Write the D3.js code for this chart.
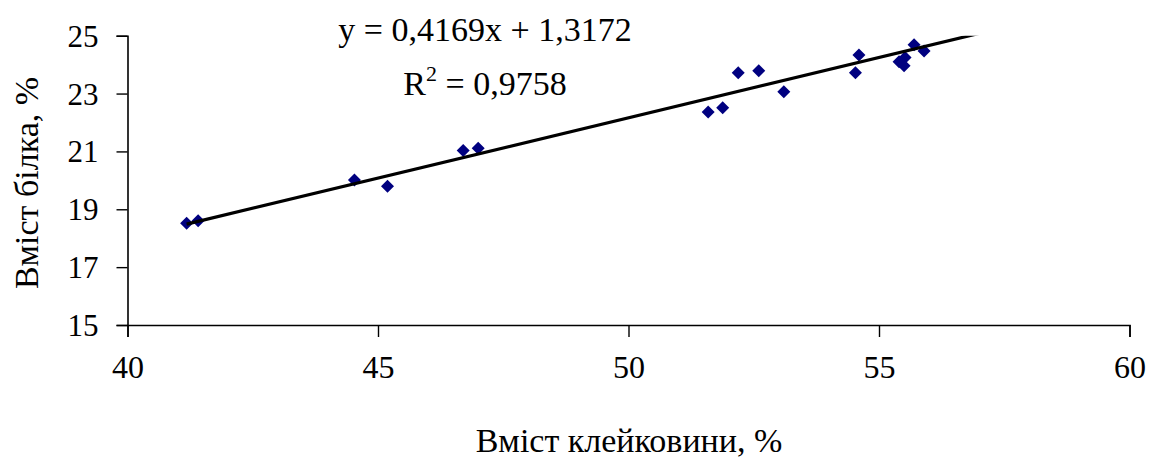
<!DOCTYPE html>
<html><head><meta charset="utf-8">
<script src="https://cdn.jsdelivr.net/npm/d3@7"></script>
<style>body{margin:0;background:#fff}svg{display:block}</style>
</head><body><svg id="c" width="1149" height="459"></svg>
<script>
const xVals = [41.18, 41.41, 44.53, 45.19, 46.70, 47.00, 51.59, 51.88, 52.19, 52.60, 53.10, 54.53, 54.60, 55.40, 55.52, 55.50, 55.70, 55.90];
const yVals = [18.52, 18.60, 20.01, 19.80, 21.03, 21.11, 22.36, 22.51, 23.72, 23.79, 23.06, 23.72, 24.33, 24.10, 24.25, 23.96, 24.69, 24.47];
const xTicks = [40, 45, 50, 55, 60];
const yTicks = [15, 17, 19, 21, 23, 25];
const slope = 0.4169, intercept = 1.3172;
const trendX = [41.18, 57];
const eqText = "y = 0,4169x + 1,3172";
const r2Text = "0,9758";
const xTitle = "Вміст клейковини, %";
const yTitle = "Вміст білка, %";

const FONT = '"Liberation Serif", "Times New Roman", Tinos, "DejaVu Serif", serif';
const svg = d3.select("#c");
const x = d3.scaleLinear().domain([40, 60]).range([127.5, 1129.5]);
const y = d3.scaleLinear().domain([15, 25]).range([325, 35.7]);

svg.append("defs").append("clipPath").attr("id","pc").append("rect")
  .attr("x", x(40)).attr("y", y(25)).attr("width", x(60)-x(40)).attr("height", y(15)-y(25));

const xa = svg.append("g").attr("transform", `translate(0,${y(15)})`)
  .call(d3.axisBottom(x).tickValues(xTicks).tickSize(12).tickPadding(18).tickFormat(d3.format("d")));
const ya = svg.append("g").attr("transform", `translate(${x(40)},0)`)
  .call(d3.axisLeft(y).tickValues(yTicks).tickSize(11).tickPadding(18).tickFormat(d3.format("d")));
[xa, ya].forEach(a => {
  a.attr("font-family", FONT);
  a.select(".domain").attr("stroke", "#000").attr("stroke-width", 1.6);
  a.selectAll(".tick line").attr("stroke", "#000").attr("stroke-width", 1.4);
  a.selectAll("text").attr("font-family", FONT).attr("fill", "#000");
});
xa.selectAll("text").attr("font-size", 32);
ya.selectAll("text").attr("font-size", 31).attr("dy", "0.34em");

// points
const diamond = "M0,-6.5L6.5,0L0,6.5L-6.5,0Z";
svg.append("g").selectAll("path").data(xVals.map((v, i) => [v, yVals[i]])).join("path")
  .attr("d", diamond).attr("fill", "#000080")
  .attr("transform", d => `translate(${x(d[0])},${y(d[1])})`);

// trend line
svg.append("line").attr("clip-path", "url(#pc)")
  .attr("x1", x(trendX[0])).attr("y1", y(slope*trendX[0]+intercept))
  .attr("x2", x(trendX[1])).attr("y2", y(slope*trendX[1]+intercept))
  .attr("stroke", "#000").attr("stroke-width", 3.2);

// equation
const T = svg.append("g").attr("font-family", FONT).attr("fill", "#000");
T.append("text").attr("x", 485).attr("y", 41).attr("text-anchor", "middle").attr("font-size", 34).text(eqText);
const r2 = T.append("text").attr("x", 485).attr("y", 95).attr("text-anchor", "middle").attr("font-size", 34);
r2.append("tspan").text("R");
r2.append("tspan").attr("font-size", 22).attr("dy", -14).text("2");
r2.append("tspan").attr("dy", 14).text(" = " + r2Text);

// titles
T.append("text").attr("x", 629).attr("y", 452).attr("text-anchor", "middle").attr("font-size", 34).text(xTitle);
T.append("text").attr("transform", "translate(38,183) rotate(-90)").attr("text-anchor", "middle").attr("font-size", 34).text(yTitle);
</script></body></html>
